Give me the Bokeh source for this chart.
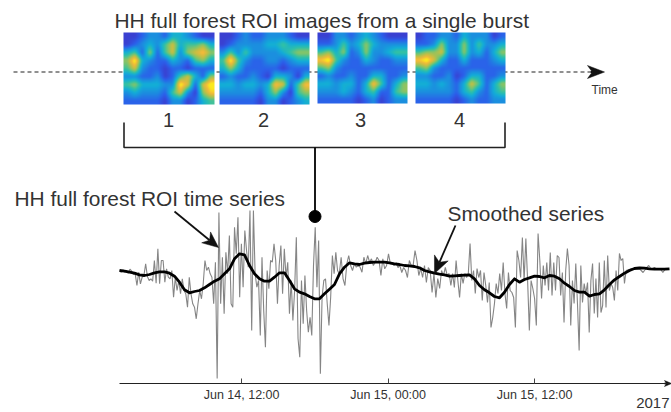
import numpy as np
import pandas as pd
from bokeh.plotting import figure
from bokeh.embed import file_html
from bokeh.resources import INLINE
from bokeh.models import Range1d, FixedTicker, LinearColorMapper
from bokeh.core.properties import value

# series values, level in dB-like units, one array per time window
raw_a = [-2,-3.7,-1.3,-3.7,-2,-4.7,-0.7,-2.7,-6,-5.3,-17,-3.7,-15.3,-8.7,-7,4.7,-8,-12,-10.3,-12.7,8,-14.7,19.7,-15.3,8,8,-13.7,-0.3,-8.7,-10.3,-2,-28.7,-8.7,-22,-12,-25.3,-10.3,-22,-25.3,-38.7,-8.7,-25.3,-35.3,-38.7,-50.3,-35.3,-22,-30.3,-15.3,8,-2,1.3,-5.3,-8.7,-35.3,6.3,-110,56,-35.3,11.3,-45.3,16.3,-5.3]
raw_b = [33,-35.3,-38.7,41.3,14.7,51.3,-28.7,24.7,-18.7,38,18,1.3,58,-62,58,-5.3,-18.7,-12,-67,11.3,-42,-78.7,-2,-20.3,8,6.3,24.7,8,-35.3,3,23,-25.3,19.7,-8.7,6.3,-45.3,-12,-52,-22,31.3,-70.3,-88.7,-12,-55.3,-7,-42,-63.7,-48.7,-67,3,41.3,-18.7,28,-105.3,-28.7,-12,-10.3,-35.3,-57,-28.7,13,-5.3,16.3,-2]
raw_c = [-5.3,11.3,-10.3,-17,4.7,13,3,-2,4.7,1.3,3,1.3,-3.7,11.3,4.7,13,6.3,9.7,3,6.3,11.3,8,-7,9.7,-0.3,3,14.7,4.7,5,3,6,1,3,-4,1,-2,-9,8,3,3,18,8,-7,0,-9,3,-14,1,-2,-24,-5,-29,-10,-20,-2,-7,1,-7]
raw_d = [-5,-17,-5,-19,8,-12,-29,-5,-15,-5,-9,-5,25,-12,-2,-25,0,-9,-2,-32,-4,-17,-34,-14,-59,-49,-35,-15,-25,-5,-22,6,-25,-40,-4,-22,-24,-29,-59,18,8,-9,31,-12,30,-12,-62,-12,-20,-30,-57,35,8,-30,3,-17,6,-22,16,-27,6,-22,13]
raw_e = [11,-27,-4,-54,-2,20,3,-57,-12,-35,5,-35,-82,3,-34,-15,-25,-14,-64,-12,5,-45,-10,-49,6,-44,-37,8,-39,13,-22,-15,-19,-32,-2,-22,15,8,10,-15]
raw_f = [-2,-1,0,0,-1,-1,-4,0,3,-1,1,-1,0,-4,0,0]
raw_windows = [0, 9, 18, 27, 36, 41.5, 45.2]  # hours after Jun 14, 02:00

smooth = [-2,-2.7,-3.7,-4.7,-6.3,-7,-6,-4.3,-3.3,-3.3,-4.7,-7.7,-13.7,-21.3,-24.3,-23,-22,-19.3,-16,-12.7,-10.3,-5.3,
          -0.3,9.7,14.7,13.7,3,-5.3,-10.3,-12.7,-12.7,-8.7,-4.3,-4.3,-12,-20.3,-23.7,-25.3,-28,-30.3,-30.3,-25.3,-20.7,-16,
          -5.3,1.3,5.7,4.7,4,5.3,6,6.3,6.3,6.3,5.7,4.7,4,3,2.7,2,0.7,-2,-3.3,-4.7,-5.7,-6.3,
          -7.7,-7.3,-7,-6.7,-6.3,-10.3,-17,-21.3,-24.3,-28,-29.3,-23.7,-16,-10.3,-13.7,-11,-9.3,-7.7,-8,-9.3,-7,-7.7,
          -10.3,-14.7,-18,-22,-23.7,-23.7,-27.7,-26,-25.3,-21.3,-16,-11.3,-8,-4.7,-2,0,0.7,0.3,-0.3,-0.7,-0.7,-0.7,-0.3]
smooth_span = 45.05

tick_times = ["2017-06-14 12:00", "2017-06-15 00:00", "2017-06-15 12:00"]
tick_labels = ["Jun 14, 12:00", "Jun 15, 00:00", "Jun 15, 12:00"]

# burst images, coarse grids (scale 0-9)
img1 = [[1,1,2,3,3,2,4,4,3,2,1,1],[1,2,3,4,3,5,7,4,5,5,6,4],[4,5,2,6,2,5,7,3,6,7,8,6],[6,9,4,3,2,2,4,3,2,5,6,4],
        [5,7,3,2,2,1,2,2,1,2,2,2],[3,3,2,2,3,1,2,5,7,4,2,6],[5,6,4,4,4,3,3,9,7,2,7,9],[3,4,3,3,3,2,5,7,3,1,6,8],[2,2,2,2,2,1,3,3,1,2,4,5]]
img2 = [[1,1,2,3,2,2,3,3,3,2,1,1],[1,2,3,3,3,3,4,4,5,4,4,4],[3,5,3,5,3,3,3,3,4,5,6,6],[5,9,5,3,2,2,3,3,2,3,4,4],
        [4,6,4,2,2,2,2,2,1,2,2,2],[2,3,2,2,3,2,1,4,4,3,1,4],[4,4,3,4,4,3,4,8,7,2,5,8],[3,3,3,3,3,2,4,6,3,1,5,6],[2,2,2,2,2,1,3,3,1,2,3,4]]
img3 = [[1,1,3,3,2,3,4,3,2,1,1,1],[2,2,3,5,3,4,6,4,3,3,3,3],[5,6,4,6,2,3,6,3,3,4,5,5],[8,9,5,3,2,2,4,3,2,2,3,3],
        [5,6,3,2,2,2,2,2,2,2,2,2],[2,3,2,2,3,2,2,4,4,2,2,3],[4,4,3,4,4,2,4,8,5,2,4,6],[3,3,3,4,3,2,4,5,2,2,5,6],[2,2,2,2,2,1,2,3,1,2,3,3]]
img4 = [[1,2,2,3,3,2,4,3,3,3,1,2],[2,2,3,6,3,3,6,3,5,3,3,4],[5,6,6,7,3,3,6,3,4,2,4,6],[8,9,7,4,2,2,4,2,2,2,3,4],
        [5,6,3,2,2,2,2,2,2,2,2,2],[3,3,2,2,3,1,2,4,4,2,2,3],[4,4,3,4,3,2,4,7,5,2,4,6],[3,3,3,3,3,2,4,5,3,2,4,5],[2,2,2,2,2,1,2,3,2,2,3,3]]
parula = ["#3a2a9a","#3a3fd0","#2b5fea","#1d8ae0","#12acd8","#2fc0a8","#7cc46e","#c0bf45","#f0b93a","#fbe91e"]

W, H = 671, 412
T0 = pd.Timestamp("2017-06-14 02:00").timestamp() * 1000
HOUR = 3600e3
PX_PER_HOUR = 146.5 / 12
AX_X0 = 119  # image x of series start


def t_at(xpix):
    return T0 + (xpix - AX_X0) / PX_PER_HOUR * HOUR


p = figure(width=W, height=H, output_backend="svg", toolbar_location=None, x_axis_type="datetime",
           x_range=Range1d(t_at(0), t_at(W)), y_range=Range1d(-144, 268),
           min_border_left=0, min_border_right=0, min_border_top=0, min_border_bottom=0,
           y_axis_location=None, outline_line_color=None)
p.grid.visible = False
p.background_fill_color = "white"
p.border_fill_color = "white"
p.extra_x_ranges["px"] = Range1d(0, W)
p.extra_y_ranges["px"] = Range1d(412, 0)
PX = dict(x_range_name="px", y_range_name="px")

ax = p.xaxis[0]
ax.fixed_location = -115
tick_ms = [pd.Timestamp(t).timestamp() * 1000 for t in tick_times]
ax.ticker = FixedTicker(ticks=tick_ms)
ax.major_label_overrides = dict(zip(tick_ms, tick_labels))
ax.major_tick_in = 5
ax.major_tick_out = 0
ax.minor_tick_line_color = None
ax.axis_line_color = "#222222"
ax.major_tick_line_color = "#444444"
ax.major_label_text_font = "Liberation Sans"
ax.major_label_text_font_size = "12.5px"
ax.major_label_text_color = "#333333"
ax.major_label_standoff = 4
ax.bounds = (t_at(119), t_at(W))

# dashed time line and images
p.line([13, 590], [71.5, 71.5], line_color="#222222", line_width=1.2, line_dash="4 3", **PX)

mapper = LinearColorMapper(palette=[
    "#%02x%02x%02x" % tuple(
        int(round(np.interp(i / 255 * 9, range(10), [int(c[k:k + 2], 16) for c in parula])))
        for k in (1, 3, 5))
    for i in range(256)], low=0, high=9)


def smooth_grid(grid, w, h):
    g = np.array(grid, float)
    r, c = g.shape
    xs = (np.arange(w) + .5) / w * c - .5
    ys = (np.arange(h) + .5) / h * r - .5
    a = np.array([np.interp(xs, range(c), row) for row in g])
    b = np.array([np.interp(ys, range(r), col) for col in a.T]).T
    k = np.ones(3) / 3
    pad = np.pad(b, 1, mode="edge")
    pad = np.apply_along_axis(lambda m: np.convolve(m, k, "same"), 0, pad)
    pad = np.apply_along_axis(lambda m: np.convolve(m, k, "same"), 1, pad)
    return np.clip(pad[1:-1, 1:-1] * 1.05, 0, 9)


for grid, x0, x1, y0, y1 in [(img1, 123, 214, 32, 104), (img2, 219, 309, 32, 104),
                             (img3, 317, 407, 32, 103), (img4, 415, 505, 32, 103)]:
    p.image(image=[smooth_grid(grid, x1 - x0, y1 - y0)], x=x0, y=y0, dw=x1 - x0, dh=y1 - y0,
            color_mapper=mapper, **PX)

# series
raw_x, raw_y = [], []
for i, seg in enumerate([raw_a, raw_b, raw_c, raw_d, raw_e, raw_f]):
    hrs = np.linspace(raw_windows[i], raw_windows[i + 1], len(seg), endpoint=False)
    raw_x.extend(T0 + hrs * HOUR)
    raw_y.extend(seg)
p.line(raw_x, raw_y, line_color="#858585", line_width=1.1)
smooth_x = T0 + np.linspace(0, smooth_span, len(smooth)) * HOUR
p.line(smooth_x, smooth, line_color="black", line_width=2.8, line_join="round")

# bracket and pointer
p.line([123.5, 123.5, 504.5, 504.5], [122, 147, 147, 122], line_color="#222222", line_width=1.6, **PX)
p.line([314.5, 314.5], [147, 216], line_color="black", line_width=1.8, **PX)
p.scatter([314.5], [216], size=12, color="black", **PX)


def stealth(xs, ys, xt, yt, length, half):
    d = np.array([xt - xs, yt - ys], float)
    d /= np.hypot(*d)
    n = np.array([-d[1], d[0]])
    tip = np.array([xt, yt], float)
    a = tip - d * length + n * half
    b = tip - d * length - n * half
    c = tip - d * length * 0.72
    p.line([xs, c[0]], [ys, c[1]], line_color="#111111", line_width=1.8, **PX)
    p.patch([tip[0], a[0], c[0], b[0]], [tip[1], a[1], c[1], b[1]], fill_color="#111111", line_color="#111111",
            line_width=0.5, **PX)


stealth(174, 211, 218, 247, 16, 7)
stealth(455, 225, 434, 273, 17, 7.5)
stealth(590, 71.5, 604, 71.5, 17, 6.5)
stealth(664, 383, 671, 383, 7, 3)

# texts
LS = value("Liberation Sans")
def txt(x, y, s, size, align="left", color="#333333"):
    p.text([x], [y], text=[s], text_font=LS, text_font_size=size, text_align=align,
           text_baseline="middle", text_color=color, **PX)

txt(114, 20, "HH full forest ROI images from a single burst", "20.9px")
txt(14, 198, "HH full forest ROI time series", "20.9px")
txt(447, 213, "Smoothed series", "20.9px")
txt(591, 89, "Time", "12px")
for xc, s in zip([168, 263, 360, 459], ["1", "2", "3", "4"]):
    txt(xc, 119, s, "20px", align="center")
txt(669, 402, "2017", "15px", align="right")

open("out.html", "w").write(file_html(p, INLINE))
